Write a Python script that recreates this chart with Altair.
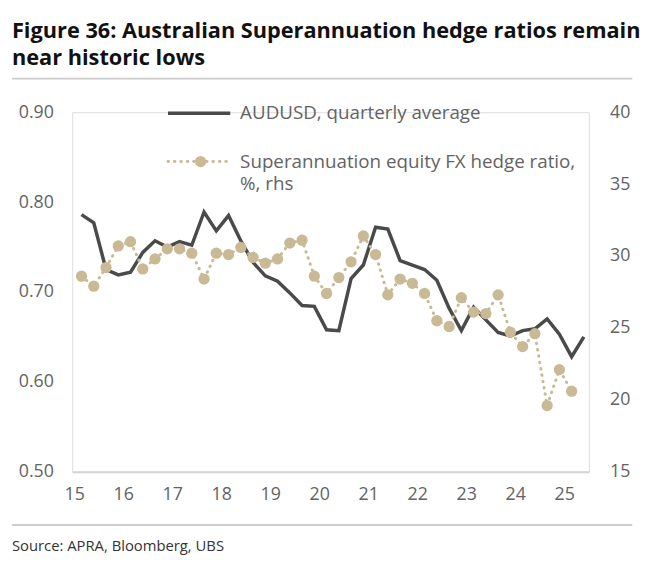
import altair as alt
import pandas as pd

# ---- data ----
quarters = [f"{y}Q{q}" for y in range(2015, 2026) for q in range(1, 5)][:42]

audusd = [0.786, 0.777, 0.725, 0.719, 0.722, 0.744, 0.757, 0.750, 0.756, 0.752,
          0.789, 0.768, 0.785, 0.757, 0.733, 0.718, 0.712, 0.699, 0.685, 0.684,
          0.658, 0.657, 0.715, 0.730, 0.772, 0.770, 0.735, 0.730, 0.725, 0.713,
          0.682, 0.657, 0.683, 0.669, 0.655, 0.651, 0.657, 0.659, 0.670, 0.653,
          0.628, 0.650]

hedge = [28.6, 27.9, 29.2, 30.7, 31.0, 29.1, 29.8, 30.5, 30.5, 30.2,
         28.4, 30.2, 30.1, 30.6, 29.9, 29.5, 29.8, 30.9, 31.1, 28.6,
         27.4, 28.5, 29.6, 31.4, 30.1, 27.3, 28.4, 28.1, 27.4, 25.5,
         25.1, 27.1, 26.1, 26.0, 27.3, 24.7, 23.7, 24.6, 19.6, 22.1,
         20.6]

x_ticks = list(range(15, 26))
left_ticks = [0.5, 0.6, 0.7, 0.8, 0.9]
right_ticks = [15, 20, 25, 30, 35, 40]

title_lines = ["Figure 36: Australian Superannuation hedge ratios remain",
               "near historic lows"]
legend_aud = "AUDUSD, quarterly average"
legend_hedge = ["Superannuation equity FX hedge ratio,", "%, rhs"]
source = "Source: APRA, Bloomberg, UBS"


def qpos(q):
    yr = int(q[:4]) - 2000
    qi = int(q[-1]) - 1
    return yr + 0.15 + 0.25 * qi


aud_df = pd.DataFrame({"q": quarters, "x": [qpos(q) for q in quarters], "v": audusd})
hed_df = pd.DataFrame({"q": quarters[:len(hedge)],
                       "x": [qpos(q) for q in quarters[:len(hedge)]], "v": hedge})

W, H = 523, 364
DARK = "#4a4a4a"
TAN = "#c9b994"
GREY = "#636363"
FONT = "Open Sans"

xenc = alt.X("x:Q", scale=alt.Scale(domain=[14.96, 25.5], nice=False, zero=False),
             axis=alt.Axis(values=x_ticks, format="d", title=None, grid=False, ticks=False,
                           domain=True, domainColor="#d4d4d4", domainWidth=2,
                           labelFontSize=18, labelColor=GREY, labelFont=FONT,
                           labelPadding=14, labelFlush=False))

aud_line = alt.Chart(aud_df).mark_line(color=DARK, strokeWidth=3.5, strokeJoin="miter").encode(
    x=xenc,
    y=alt.Y("v:Q", scale=alt.Scale(domain=[0.5, 0.9], nice=False, zero=False),
            axis=alt.Axis(orient="left", values=left_ticks, format=".2f", title=None,
                          grid=False, ticks=False, domain=False, labelFontSize=18,
                          labelColor=GREY, labelFont=FONT, labelPadding=19))
)

hy = alt.Y("v:Q", scale=alt.Scale(domain=[15, 40], nice=False, zero=False),
           axis=alt.Axis(orient="right", values=right_ticks, format="d", title=None,
                         grid=False, ticks=False, domain=False, labelFontSize=18,
                         labelColor=GREY, labelFont=FONT, labelPadding=21))

hed_line = alt.Chart(hed_df).mark_line(color=TAN, strokeWidth=3, strokeDash=[0.5, 6],
                                        strokeCap="round").encode(x="x:Q", y=hy)
hed_pts = alt.Chart(hed_df).mark_circle(color=TAN, size=130, opacity=1).encode(x="x:Q", y=hy)
hed_layer = alt.layer(hed_line, hed_pts)

one = pd.DataFrame({"a": [0]})


def txt(s, x, y, size=18, color=GREY, weight="normal", font=FONT):
    return alt.Chart(one).mark_text(text=s, align="left", baseline="middle", fontSize=size,
                                    color=color, fontWeight=weight, font=font).encode(
        x=alt.value(x), y=alt.value(y))


# legend
leg1_line = alt.Chart(one).mark_rule(color=DARK, strokeWidth=3.5).encode(
    x=alt.value(97), x2=alt.value(160), y=alt.value(1))
leg2_line = alt.Chart(one).mark_rule(color=TAN, strokeWidth=3, strokeDash=[0.5, 6],
                                     strokeCap="round").encode(
    x=alt.value(97), x2=alt.value(162), y=alt.value(50))
leg2_pt = alt.Chart(one).mark_circle(color=TAN, size=130, opacity=1).encode(
    x=alt.value(130), y=alt.value(50))

top_rule = alt.Chart(one).mark_rule(color="#cccccc", strokeWidth=2).encode(
    x=alt.value(-61), x2=alt.value(567), y=alt.value(-34))
bot_rule = alt.Chart(one).mark_rule(color="#cccccc", strokeWidth=2).encode(
    x=alt.value(-61), x2=alt.value(567), y=alt.value(418))

deco = alt.layer(
    leg1_line, leg2_line, leg2_pt,
    txt(legend_aud, 170, 1, size=19),
    txt(legend_hedge[0], 170, 50, size=19),
    txt(legend_hedge[1], 170, 73, size=19),
    txt(title_lines[0], -61, -82, size=22, color="#111111", weight="bold"),
    txt(title_lines[1], -61, -55, size=22, color="#111111", weight="bold"),
    top_rule, bot_rule,
    txt(source, -61, 439, size=15, color="#333333"),
)

chart = alt.layer(aud_line, hed_layer, deco).resolve_scale(y="independent").properties(
    width=W, height=H,
    autosize=alt.AutoSizeParams(type="none"),
    padding={"left": 65, "top": 102, "right": 64, "bottom": 99},
).configure_view(stroke=None).configure(background="white")

chart.save("out.html", embed_options={"renderer": "svg", "actions": False})
